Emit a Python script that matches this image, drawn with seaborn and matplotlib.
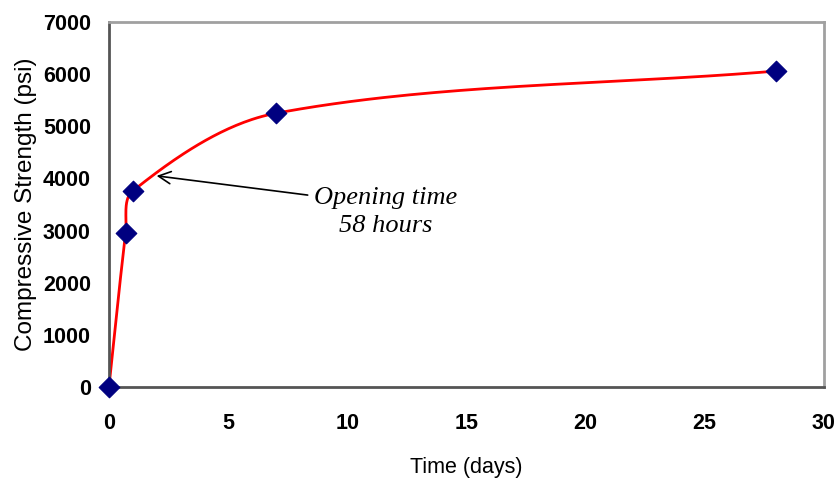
import numpy as np
import pandas as pd
import seaborn as sns
import matplotlib
matplotlib.use('Agg')
import matplotlib.pyplot as plt

# strength data
days = [0, 0.7, 1, 7, 28]
strength = [0, 2950, 3760, 5250, 6060]
x_ticks = [0, 5, 10, 15, 20, 25, 30]
y_ticks = [0, 1000, 2000, 3000, 4000, 5000, 6000, 7000]


def smooth_curve(xs, ys, sx, sy, n=60):
    # Excel style smoothed line: bezier segments built in screen space,
    # tangents weighted by neighbouring segment lengths
    p = np.column_stack([np.array(xs) * sx, np.array(ys) * sy])
    pts = []
    for i in range(len(p) - 1):
        p0 = p[i - 1] if i > 0 else p[i]
        p1, p2 = p[i], p[i + 1]
        p3 = p[i + 2] if i + 2 < len(p) else p[i + 1]
        d01 = np.linalg.norm(p1 - p0)
        d12 = np.linalg.norm(p2 - p1)
        d23 = np.linalg.norm(p3 - p2)
        c1 = p1 + (p2 - p0) * d12 / (d01 + d12) / 3
        c2 = p2 - (p3 - p1) * d12 / (d12 + d23) / 3
        t = np.linspace(0, 1, n)[:, None]
        seg = ((1 - t) ** 3) * p1 + 3 * ((1 - t) ** 2) * t * c1 \
            + 3 * (1 - t) * t ** 2 * c2 + t ** 3 * p2
        pts.append(seg)
    pts = np.vstack(pts)
    return pts[:, 0] / sx, pts[:, 1] / sy


sns.set_style('white')
plt.rcParams['font.family'] = ['Liberation Sans', 'DejaVu Sans']
plt.rcParams['text.color'] = 'black'
plt.rcParams['axes.labelcolor'] = 'black'

fig = plt.figure(figsize=(8.38, 4.79), dpi=100)
ax = fig.add_axes([0.130, 0.192, 0.853, 0.762])
ax.set_xlim(0, 30)
ax.set_ylim(0, 7000)

# pixels per data unit, used to build the curve in screen space
sx = 0.853 * 838 / 30
sy = 0.762 * 479 / 7000
cx, cy = smooth_curve(days, strength, sx, sy)
curve = pd.DataFrame({'x': cx, 'y': cy})
pts = pd.DataFrame({'days': days, 'strength': strength})

sns.lineplot(data=curve, x='x', y='y', sort=False, estimator=None,
             color='#ff0000', linewidth=2, ax=ax, zorder=2)
sns.scatterplot(data=pts, x='days', y='strength', marker='D', s=110,
                color='#000080', edgecolor='#000080', ax=ax, zorder=3,
                clip_on=False)

ax.set_xticks(x_ticks)
ax.set_yticks(y_ticks)
ax.set_xticklabels([str(v) for v in x_ticks], fontsize=15.5, fontweight='bold')
ax.set_yticklabels([str(v) for v in y_ticks], fontsize=15.5, fontweight='bold')
ax.tick_params(axis='both', direction='out', length=5, width=1.2,
               color='#404040', labelcolor='black')
ax.tick_params(axis='x', pad=14)
ax.tick_params(axis='y', pad=8)
ax.set_xlabel('Time (days)', fontsize=15.5, labelpad=16)
ax.set_ylabel('Compressive Strength (psi)', fontsize=17.5, labelpad=4)

for side in ['left', 'bottom']:
    ax.spines[side].set_color('#555555')
    ax.spines[side].set_linewidth(2)
for side in ['top', 'right']:
    ax.spines[side].set_color('#a0a0a0')
    ax.spines[side].set_linewidth(2)

ax.annotate('Opening time\n58 hours', xy=(2.0, 4050), xytext=(11.6, 3360),
            ha='center', va='center', fontsize=19, style='italic',
            family='Liberation Serif', linespacing=1.35,
            arrowprops=dict(arrowstyle='->', color='black', lw=1.2,
                            mutation_scale=22, shrinkA=2, shrinkB=0,
                            relpos=(0, 0.82)))

fig.savefig('out.png', dpi=100)
